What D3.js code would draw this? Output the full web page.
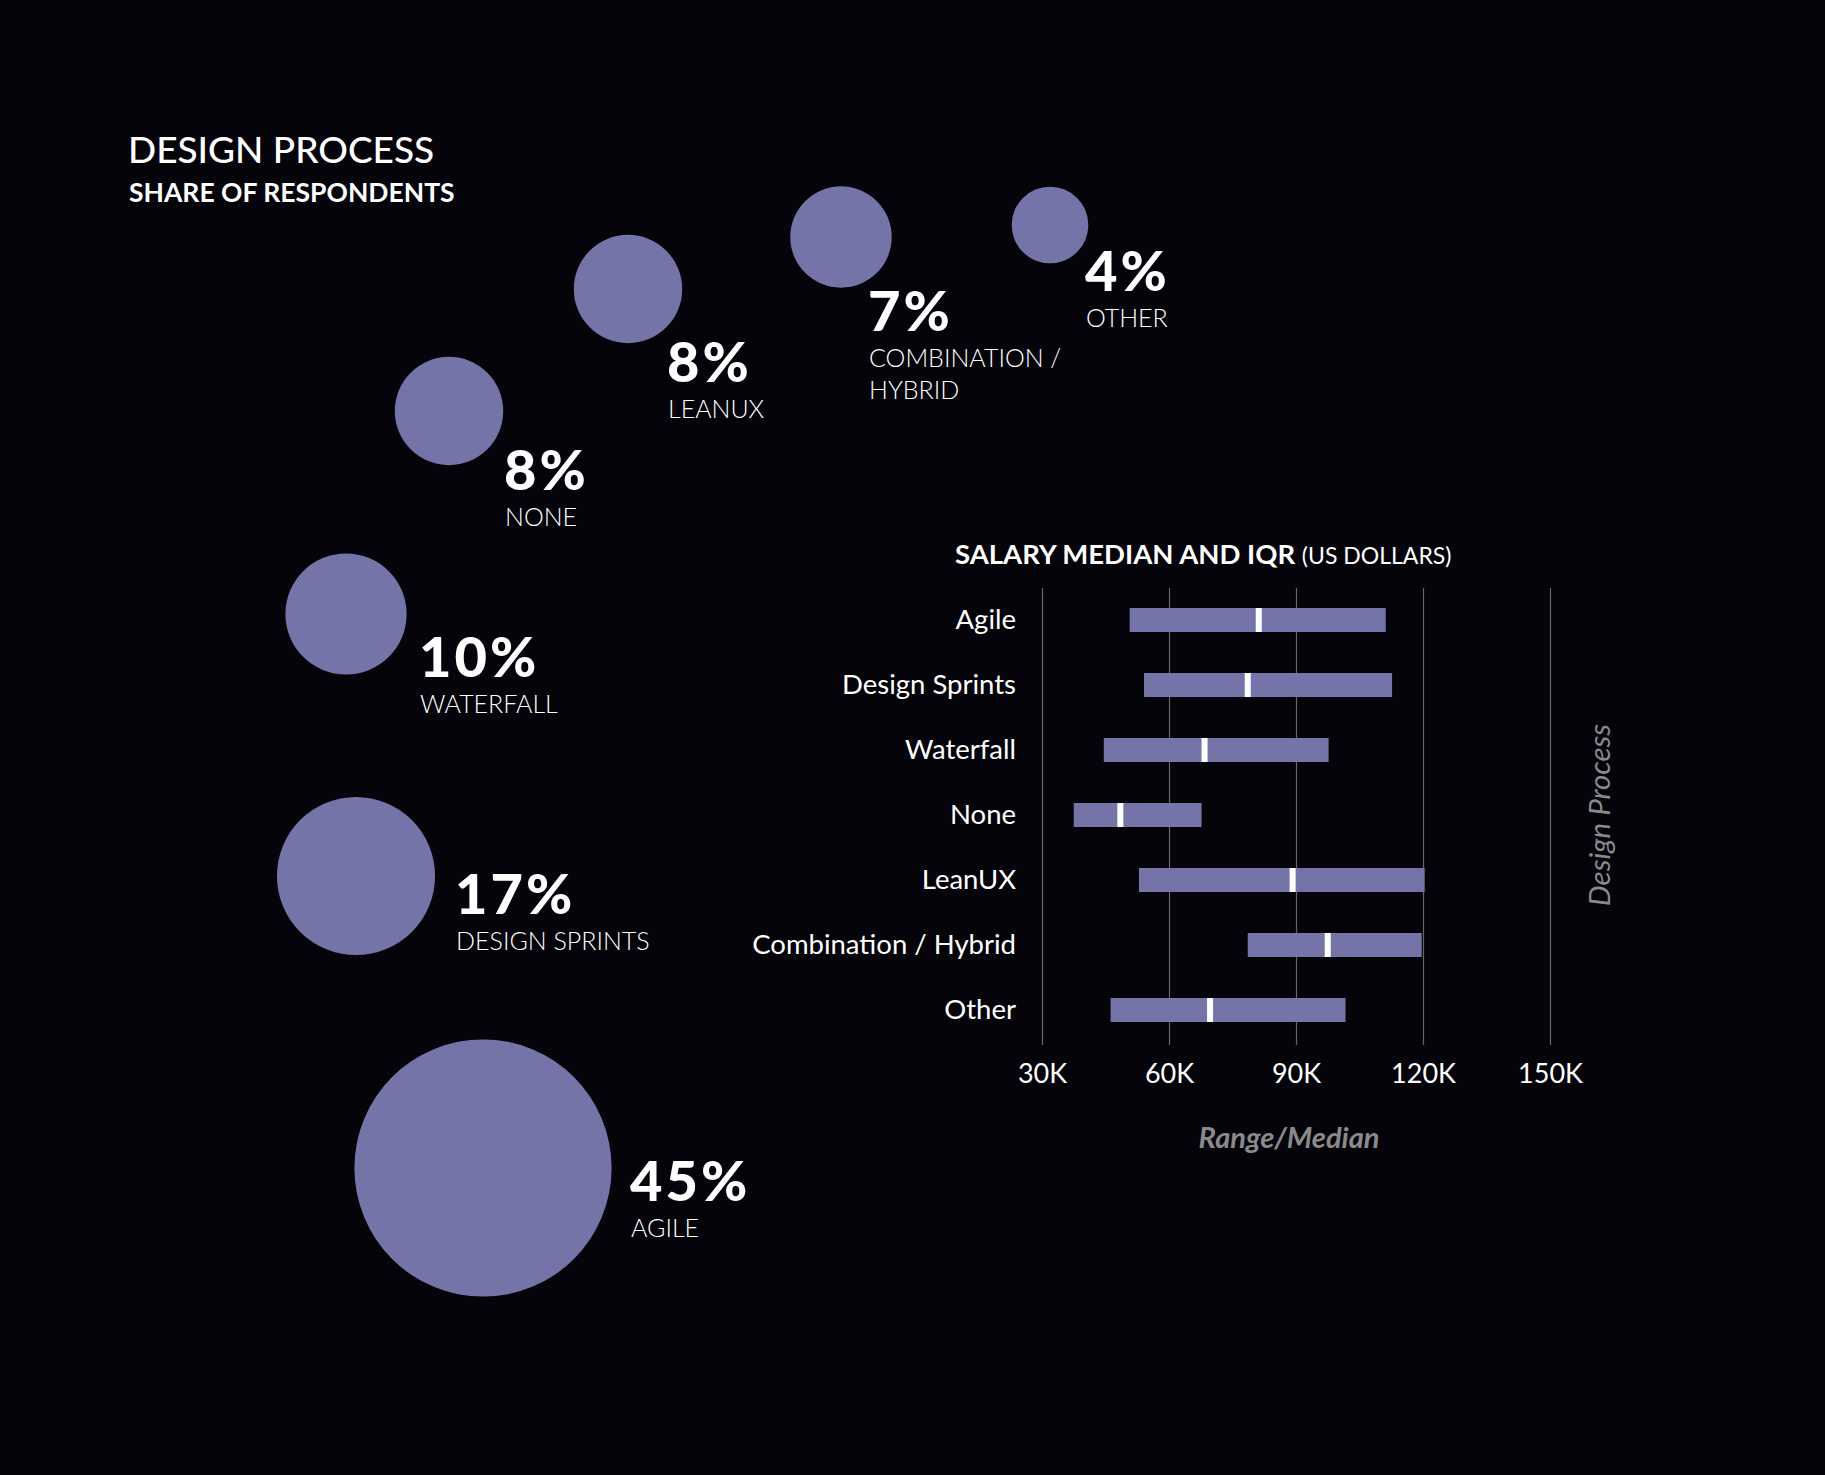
<!DOCTYPE html>
<html>
<head>
<meta charset="utf-8">
<script src="https://cdn.jsdelivr.net/npm/d3@7"></script>
<style>
  html, body { margin: 0; padding: 0; background: #04040a; }
  svg { display: block; font-family: Lato, "Open Sans", sans-serif; }
</style>
</head>
<body>
<svg id="chart" width="1825" height="1475"></svg>
<script>
// data
const processes = ['Agile', 'Design Sprints', 'Waterfall', 'None', 'LeanUX', 'Combination / Hybrid', 'Other'];
const shares = [45, 17, 10, 8, 8, 7, 4];
const bubbleLabels = [['AGILE'], ['DESIGN SPRINTS'], ['WATERFALL'], ['NONE'], ['LEANUX'], ['COMBINATION /', 'HYBRID'], ['OTHER']];
const salaryQ1 = [50.7, 54.1, 44.6, 37.5, 52.9, 78.6, 46.2];
const salaryMedian = [81.2, 78.6, 68.4, 48.5, 89.2, 97.5, 69.7];
const salaryQ3 = [111.2, 112.7, 97.7, 67.7, 120.4, 119.7, 101.7];
const salaryTicks = [30, 60, 90, 120, 150];

// hand placed bubble layout (centre, then offset of the % text)
const bubbleSpots = [[483, 1168], [356, 876], [346, 614], [449, 411], [628, 289], [841, 237], [1050, 225]];
const labelOffsets = [[147, 33], [99, 38], [73, 63], [55, 79], [39, 93], [27, 94], [35, 66]];

const purple = '#7474a9';
const grey = '#8a8a8a';

const svg = d3.select('#chart');
svg.append('rect').attr('width', 1825).attr('height', 1475).attr('fill', '#04040a');

// left titles
svg.append('text')
  .attr('x', 128).attr('y', 163)
  .attr('fill', '#fff').attr('font-size', 37).attr('font-weight', 500)
  .text('DESIGN PROCESS');
svg.append('text')
  .attr('x', 129).attr('y', 202)
  .attr('fill', '#fff').attr('font-size', 26.5).attr('font-weight', 700)
  .text('SHARE OF RESPONDENTS');

// bubbles
const r = d3.scaleSqrt().domain([0, 45]).range([0, 128.6]);

const bubbles = processes.map((p, i) => ({
  name: p,
  share: shares[i],
  lines: bubbleLabels[i],
  cx: bubbleSpots[i][0],
  cy: bubbleSpots[i][1],
  dx: labelOffsets[i][0],
  dy: labelOffsets[i][1]
}));

const bg = svg.append('g').selectAll('g')
  .data(bubbles)
  .enter()
  .append('g')
  .attr('transform', d => `translate(${d.cx},${d.cy})`);

bg.append('circle')
  .attr('r', d => r(d.share))
  .attr('fill', purple);

bg.append('text')
  .attr('x', d => d.dx)
  .attr('y', d => d.dy)
  .attr('fill', '#fff')
  .attr('font-size', 56)
  .attr('font-weight', 900)
  .attr('letter-spacing', 3)
  .text(d => d.share + '%');

bg.each(function (d) {
  const g = d3.select(this);
  d.lines.forEach((line, k) => {
    g.append('text')
      .attr('x', d.dx + 1)
      .attr('y', d.dy + 36 + k * 32)
      .attr('fill', '#fff')
      .attr('font-size', 25)
      .attr('font-weight', 300)
      .text(line);
  });
});

// salary chart
const x = d3.scaleLinear().domain([30, 150]).range([1042, 1550]);
const y = d3.scalePoint().domain(processes).range([620, 1010]);
const gridTop = 588, gridBottom = 1045;
const barH = 24;

svg.append('text')
  .attr('x', 955).attr('y', 564)
  .attr('fill', '#fff').attr('font-size', 27.5).attr('font-weight', 700)
  .text('SALARY MEDIAN AND IQR ')
  .append('tspan')
  .attr('font-size', 23).attr('font-weight', 400)
  .text('(US DOLLARS)');

const xAxis = svg.append('g')
  .attr('transform', `translate(0,${gridBottom})`)
  .call(d3.axisBottom(x).tickValues(salaryTicks).tickSize(-(gridBottom - gridTop)).tickFormat(d => d + 'K'));
xAxis.select('.domain').remove();
xAxis.selectAll('line').attr('stroke', '#666').attr('stroke-width', 1.2);
xAxis.selectAll('text')
  .attr('y', 38).attr('dy', 0)
  .attr('fill', '#fff')
  .attr('font-size', 27)
  .attr('font-family', 'Lato, sans-serif');

const yAxis = svg.append('g')
  .attr('transform', `translate(${x(30)},0)`)
  .call(d3.axisLeft(y).tickSize(0).tickPadding(26));
yAxis.select('.domain').remove();
yAxis.selectAll('text')
  .attr('fill', '#fff')
  .attr('font-size', 27.5)
  .attr('font-family', 'Lato, sans-serif');

const rows = processes.map((p, i) => ({ name: p, q1: salaryQ1[i], med: salaryMedian[i], q3: salaryQ3[i] }));

svg.append('g').selectAll('rect')
  .data(rows)
  .enter()
  .append('rect')
  .attr('x', d => x(d.q1))
  .attr('y', d => y(d.name) - barH / 2)
  .attr('width', d => x(d.q3) - x(d.q1))
  .attr('height', barH)
  .attr('fill', purple);

svg.append('g').selectAll('rect')
  .data(rows)
  .enter()
  .append('rect')
  .attr('x', d => x(d.med) - 3)
  .attr('y', d => y(d.name) - barH / 2)
  .attr('width', 6)
  .attr('height', barH)
  .attr('fill', '#fff');

// axis titles
svg.append('text')
  .attr('x', 1289).attr('y', 1148)
  .attr('text-anchor', 'middle')
  .attr('fill', grey).attr('font-size', 29).attr('font-style', 'italic').attr('font-weight', 700)
  .text('Range/Median');

svg.append('text')
  .attr('transform', 'translate(1610,815) rotate(-90)')
  .attr('text-anchor', 'middle')
  .attr('fill', grey).attr('font-size', 29.5).attr('font-style', 'italic')
  .text('Design Process');
</script>
</body>
</html>
